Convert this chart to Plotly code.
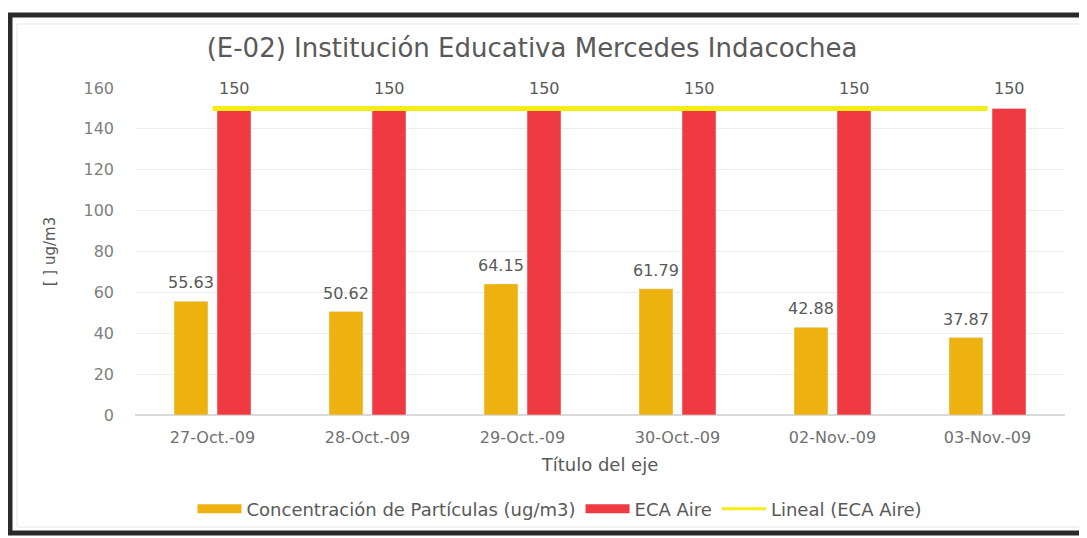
import plotly.graph_objects as go

categories = ["27-Oct.-09", "28-Oct.-09", "29-Oct.-09", "30-Oct.-09", "02-Nov.-09", "03-Nov.-09"]
concentracion = [55.63, 50.62, 64.15, 61.79, 42.88, 37.87]
eca_aire = [150, 150, 150, 150, 150, 150]
y_ticks = [0, 20, 40, 60, 80, 100, 120, 140, 160]

O = 8  # page body margin offset
W, H = 1087 - O, 538 - O
PL, PR, PT, PB = 135, 1065, 88, 415  # plot area in page pixels
PW, PH = PR - PL, PB - PT
L, T = PL - O, PT - O
R, B = W - L - PW, H - T - PH

def px(x):
    return (x - PL) / PW

def py(y):
    return (PB - y) / PH

YEL = "#EDB20F"
RED = "#EE3A40"
LINE = "#F4EE14"
FONT = "DejaVu Sans"
TXT = "#595959"
BARGAP = 0.445
GROUPGAP = 0.21
slot = (1 - BARGAP) / 2  # width of one series slot in category units

fig = go.Figure()
fig.add_trace(go.Bar(
    x=categories, y=concentracion, name="Concentración de Partículas (ug/m3)",
    marker=dict(color=YEL), showlegend=False))
fig.add_trace(go.Bar(
    x=categories, y=eca_aire, name="ECA Aire",
    marker=dict(color=RED), showlegend=False))
fig.add_trace(go.Scatter(
    x=categories, y=eca_aire, mode="lines", name="Lineal (ECA Aire)",
    line=dict(color=LINE, width=5), showlegend=False))

# legend entries (wide swatches like the original)
fig.add_trace(go.Scatter(x=[None], y=[None], mode="lines", name="Concentración de Partículas (ug/m3)",
                         line=dict(color=YEL, width=9)))
fig.add_trace(go.Scatter(x=[None], y=[None], mode="lines", name="ECA Aire",
                         line=dict(color=RED, width=9)))
fig.add_trace(go.Scatter(x=[None], y=[None], mode="lines", name="Lineal (ECA Aire)",
                         line=dict(color=LINE, width=3)))

# data labels
annotations = []
for i, v in enumerate(concentracion):
    annotations.append(dict(x=i - slot / 2, y=v, xref="x", yref="y", text=f"{v:.2f}",
                            showarrow=False, yanchor="bottom", yshift=7,
                            font=dict(size=16, color=TXT, family=FONT)))
for i, v in enumerate(eca_aire):
    annotations.append(dict(x=i + slot / 2, y=v, xref="x", yref="y", text=str(v),
                            showarrow=False, yanchor="bottom", yshift=8,
                            font=dict(size=16, color=TXT, family=FONT)))

FR = dict(color="#2a2a2a", width=5)
THIN = dict(color="#e6e6e6", width=1)
shapes = [
    # outer frame: top, left, bottom (right side lies outside the picture)
    dict(type="line", xref="paper", yref="paper", x0=px(8), x1=px(1095), y0=py(15), y1=py(15),
         line=FR, layer="above"),
    dict(type="line", xref="paper", yref="paper", x0=px(10), x1=px(10), y0=py(13), y1=py(535),
         line=FR, layer="above"),
    dict(type="line", xref="paper", yref="paper", x0=px(8), x1=px(1095), y0=py(533), y1=py(533),
         line=FR, layer="above"),
    # faint inner chart-area border
    dict(type="line", xref="paper", yref="paper", x0=px(17), x1=px(1095), y0=py(24), y1=py(24),
         line=THIN, layer="above"),
    dict(type="line", xref="paper", yref="paper", x0=px(17), x1=px(17), y0=py(24), y1=py(527),
         line=THIN, layer="above"),
    dict(type="line", xref="paper", yref="paper", x0=px(17), x1=px(1095), y0=py(527), y1=py(527),
         line=THIN, layer="above"),
]

fig.update_layout(
    width=W, height=H,
    margin=dict(l=L, r=R, t=T, b=B, autoexpand=False),
    paper_bgcolor="white", plot_bgcolor="white",
    font=dict(family=FONT, color=TXT),
    title=dict(text="(E-02) Institución Educativa Mercedes Indacochea",
               x=(532 - O) / W, xanchor="center", y=1 - (48 - O) / H, yanchor="middle",
               font=dict(size=26, color=TXT, family=FONT)),
    barmode="group", bargap=BARGAP, bargroupgap=GROUPGAP,
    xaxis=dict(showgrid=False, showline=False, ticks="",
               tickfont=dict(size=16, color="#707070"), ticklabelstandoff=11,
               title=dict(text="Título del eje", font=dict(size=18, color=TXT), standoff=12)),
    yaxis=dict(range=[0, 160], tickvals=y_ticks, showgrid=True, gridcolor="#ededed",
               zeroline=True, zerolinecolor="#d9d9d9", showline=False,
               tickfont=dict(size=16, color="#808080"), ticklabelstandoff=20,
               title=dict(text="[ ] ug/m3", font=dict(size=15, color=TXT), standoff=24)),
    legend=dict(orientation="h", x=px(560), xanchor="center", y=py(509), yanchor="middle",
                font=dict(size=18, color=TXT, family=FONT), itemwidth=44,
                bgcolor="rgba(0,0,0,0)"),
    shapes=shapes,
    annotations=annotations,
)

fig.write_html(
    "out.html",
    post_script="document.documentElement.style.overflow='hidden';document.body.style.overflow='hidden';",
)
